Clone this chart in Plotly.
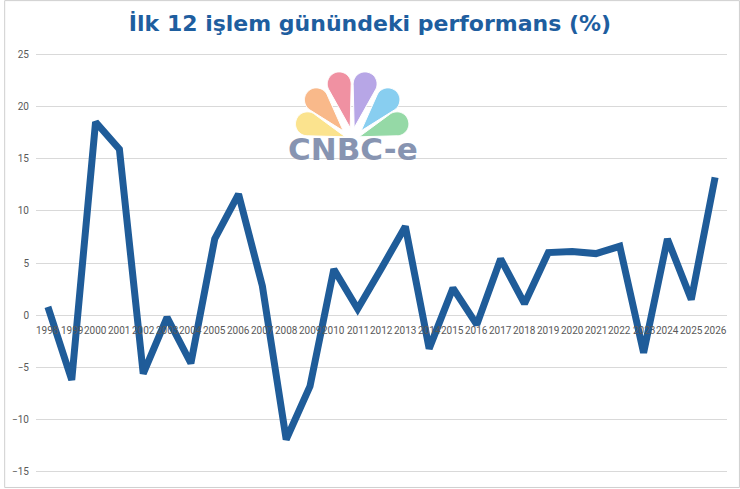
import math
import plotly.graph_objects as go

years = list(range(1998, 2027))
year_labels = [str(y) for y in years]
values = [0.8, -6.2, 18.5, 15.9, -5.6, -0.2, -4.6, 7.3, 11.6, 2.8, -11.9, -6.8,
          4.4, 0.6, 4.5, 8.5, -3.2, 2.6, -0.9, 5.4, 1.1, 6.0, 6.1, 5.9, 6.6,
          -3.6, 7.3, 1.5, 13.2]
y_ticks = [-15, -10, -5, 0, 5, 10, 15, 20, 25]

W, H = 740, 489
L, R, T, B = 32, 13, 51, 13
PW, PH = W - L - R, H - T - B

def px(x):
    return (x - L) / PW

def py(y):
    return 1 - (y - T) / PH

fig = go.Figure()
fig.add_trace(go.Scatter(x=years, y=values, mode="lines",
                         line=dict(color="#1F5C99", width=7), hoverinfo="x+y"))

annotations = []
for yr, lab in zip(years, year_labels):
    annotations.append(dict(x=yr, y=0, xref="x", yref="y", text=lab, showarrow=False,
                            yanchor="top", yshift=-8,
                            font=dict(family="Roboto", size=10, color="#595959")))

# logo (decorative): teardrop feathers (tip, round-end centre, radius, colour)
shapes = []
feathers = [
    ((343, 137), (305, 124), 12, "#FBE38E"),
    ((341, 131), (314, 100), 12, "#F9B98A"),
    ((348, 128), (337, 84), 12, "#F091A2"),
    ((352, 128), (363, 84), 12, "#B7A6E6"),
    ((359, 131), (386, 100), 12, "#88CEF0"),
    ((357, 137), (395, 124), 12, "#95D9A6"),
]
for (tx, ty), (cx, cy), r, col in feathers:
    D = math.hypot(tx - cx, ty - cy)
    base_ang = math.atan2(ty - cy, tx - cx)
    phi = math.acos(r / D)
    pts = [(tx, ty)]
    n = 40
    for i in range(n + 1):
        a = base_ang + phi + (2 * math.pi - 2 * phi) * i / n
        pts.append((cx + r * math.cos(a), cy + r * math.sin(a)))
    path = "M " + " L ".join(f"{px(x):.5f},{py(y):.5f}" for x, y in pts) + " Z"
    shapes.append(dict(type="path", xref="paper", yref="paper", path=path,
                       fillcolor=col, line=dict(color="white", width=1), layer="above"))

annotations.append(dict(x=px(351), y=py(149), xref="paper", yref="paper", text="<b>CNBC-e</b>",
                        showarrow=False, xanchor="center", yanchor="middle",
                        font=dict(family="DejaVu Sans", size=31, color="#8794B1")))

shapes.append(dict(type="rect", xref="paper", yref="paper", x0=px(0.5), x1=px(W - 0.5),
                   y0=py(H - 0.5), y1=py(0.5), line=dict(color="#CFCFCF", width=1),
                   fillcolor="rgba(0,0,0,0)"))

fig.update_layout(
    width=W, height=H, margin=dict(l=L, r=R, t=T, b=B),
    paper_bgcolor="white", plot_bgcolor="white", showlegend=False,
    title=dict(text="<b>İlk 12 işlem günündeki performans (%)</b>", x=0.5, xanchor="center",
               y=1 - 23 / H, yanchor="middle",
               font=dict(family="DejaVu Sans", size=22, color="#1E5E9F")),
    xaxis=dict(showticklabels=False, showgrid=False, zeroline=False,
               showline=False, ticks="", range=[years[0] - 0.5, years[-1] + 0.5]),
    yaxis=dict(range=[-15.3, 25.3], tickvals=y_ticks, showgrid=True, gridcolor="#D9D9D9",
               gridwidth=1, zeroline=True, zerolinecolor="#D9D9D9", zerolinewidth=1,
               ticks="", showline=False, ticklabelstandoff=6,
               tickfont=dict(family="Roboto", size=10, color="#595959")),
    annotations=annotations, shapes=shapes,
)
fig.write_html("out.html", config={"displayModeBar": False},
               post_script="document.body.style.margin='0';")
